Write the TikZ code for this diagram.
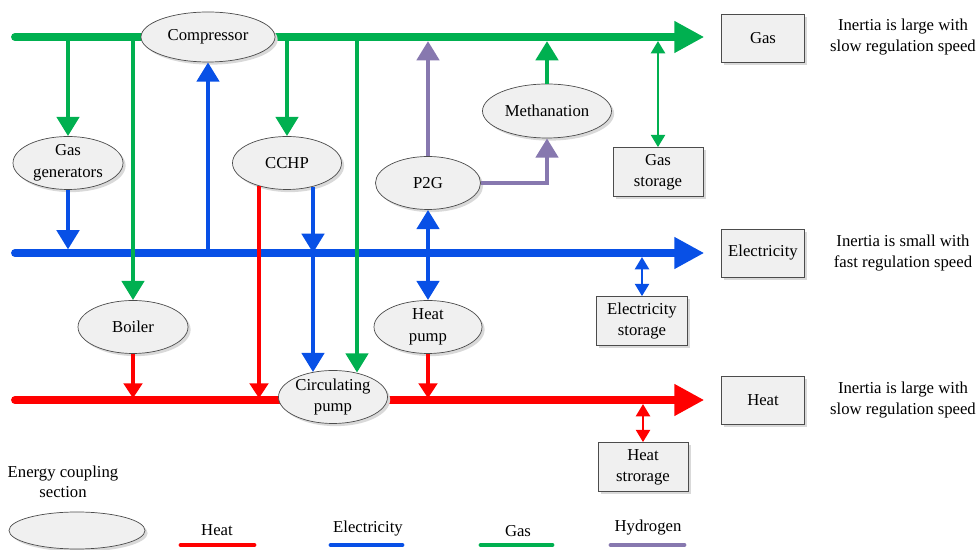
\documentclass[tikz,border=0pt]{standalone}
\usepackage{fontspec}
\setmainfont{Liberation Serif}
\usetikzlibrary{shapes.geometric,arrows.meta,shadows}
\definecolor{gasgreen}{RGB}{0,176,80}
\definecolor{elecblue}{RGB}{8,80,230}
\definecolor{heatred}{RGB}{255,0,0}
\definecolor{hydpurple}{RGB}{135,120,175}
\definecolor{nodegray}{RGB}{240,240,240}

\begin{document}
\begin{tikzpicture}[font=\fontsize{9.5}{11.5}\selectfont,
  coupler/.style={ellipse, draw=black!70, fill=nodegray, inner sep=0pt, align=center,
    font=\fontsize{9.5}{12.5}\selectfont,
    minimum width=2.2cm, minimum height=1.06cm,
    drop shadow={shadow xshift=1.5pt, shadow yshift=-1.5pt, fill=black!15, opacity=1}},
  store/.style={rectangle, draw=black!70, fill=nodegray, inner sep=0pt, align=center,
    font=\fontsize{9.5}{12}\selectfont,
    minimum width=1.8cm, minimum height=0.98cm,
    drop shadow={shadow xshift=1.5pt, shadow yshift=-1.5pt, fill=black!15, opacity=1}},
  carrier/.style={store, minimum width=1.66cm, minimum height=0.96cm},
  note/.style={align=center, inner sep=0pt},
  bus/.style={line width=4.5pt, line cap=round, -{Triangle[length=17pt,width=17pt]}},
  link/.style={line width=2.8pt, -{Triangle[length=11pt,width=12.5pt]}},
  duallink/.style={line width=2.8pt, {Triangle[length=11pt,width=12.5pt]}-{Triangle[length=11pt,width=12.5pt]}},
  thinlink/.style={line width=2.1pt, -{Triangle[length=8.5pt,width=10.5pt]}},
  storelink/.style={line width=1.3pt, {Triangle[length=7pt,width=8pt]}-{Triangle[length=7pt,width=8pt]}},
  legline/.style={line width=2.8pt, line cap=round}]
\useasboundingbox (0,0) rectangle (19.54,11);

\node[carrier] (gasbox) at (15.26,10.24) {Gas};
\node[carrier] (elecbox) at (15.26,5.94) {Electricity};
\node[carrier] (heatbox) at (15.26,3.0) {Heat};

\node[note] (gasnote) at (18.06,10.26) {Inertia is large with\\slow regulation speed};
\node[note] (elecnote) at (18.06,5.94) {Inertia is small with\\fast regulation speed};
\node[note] (heatnote) at (18.06,3.0) {Inertia is large with\\slow regulation speed};

\coordinate (gasL) at (0.3,10.26);
\coordinate (elecL) at (0.3,5.94);
\coordinate (heatL) at (0.3,3.0);

\draw[bus, gasgreen, shorten >=9.6pt] (gasL) -- (gasL -| gasbox.west);
\draw[bus, elecblue, shorten >=9.6pt] (elecL) -- (elecL -| elecbox.west);
\draw[bus, heatred, shorten >=9.6pt] (heatL) -- (heatL -| heatbox.west);

\node[coupler, minimum width=2.68cm, minimum height=1.0cm] (comp) at (4.16,10.26) {Compressor};
\node[coupler] (gg) at (1.36,7.74) {Gas\\generators};
\node[coupler, minimum width=2.18cm] (cchp) at (5.74,7.74) {CCHP};
\node[coupler, minimum width=2.1cm] (p2g) at (8.56,7.34) {P2G};
\node[coupler, minimum width=2.58cm, minimum height=1.08cm] (meth) at (10.94,8.78) {Methanation};
\node[coupler] (boiler) at (2.66,4.46) {Boiler};
\node[coupler, minimum width=2.16cm] (hp) at (8.56,4.46) {Heat\\pump};
\node[coupler, minimum width=2.18cm] (cp) at (6.66,3.06) {Circulating\\pump};

\node[store] (gs) at (13.16,7.56) {Gas\\storage};
\node[store, minimum width=1.82cm] (es) at (12.84,4.58) {Electricity\\storage};
\node[store] (hs) at (12.86,1.66) {Heat\\strorage};

\coordinate (cchpred) at ([xshift=-0.56cm,yshift=0.07cm]cchp.south);
\coordinate (cchpblue) at ([xshift=0.52cm,yshift=0.06cm]cchp.south);
\coordinate (cpblue) at ([xshift=-0.4cm,yshift=-0.04cm]cp.north);
\coordinate (cpgreen) at ([xshift=0.48cm,yshift=-0.05cm]cp.north);

\draw[link, gasgreen] (gg.north |- gasL) -- (gg.north);
\draw[link, gasgreen] (boiler.north |- gasL) -- (boiler.north);
\draw[link, gasgreen] (cchp.north |- gasL) -- (cchp.north);
\draw[link, gasgreen] (cpgreen |- gasL) -- (cpgreen);
\draw[link, gasgreen, shorten >=2.3pt] (meth.north) -- (meth.north |- gasL);
\draw[link, hydpurple, shorten >=2.3pt] (p2g.north) -- (p2g.north |- gasL);
\draw[link, hydpurple] (p2g.east) -| (meth.south);
\draw[storelink, gasgreen, shorten <=2.3pt] (gs.north |- gasL) -- (gs.north);

\draw[link, elecblue] (comp.south |- elecL) -- (comp.south);
\draw[link, elecblue, shorten >=2pt] (gg.south) -- (gg.south |- elecL);
\draw[link, elecblue] (cchpblue) -- (cchpblue |- elecL);
\draw[link, elecblue] (cpblue |- elecL) -- (cpblue);
\draw[duallink, elecblue] (p2g.south) -- (hp.north);
\draw[storelink, elecblue, shorten <=2.3pt] (es.north |- elecL) -- (es.north);

\draw[thinlink, heatred, shorten >=1pt] (cchpred) -- (cchpred |- heatL);
\draw[thinlink, heatred, shorten >=1pt] (boiler.south) -- (boiler.south |- heatL);
\draw[thinlink, heatred, shorten >=1pt] (hp.south) -- (hp.south |- heatL);
\draw[storelink, heatred, shorten <=2.3pt] (hs.north |- heatL) -- (hs.north);

\node[coupler, minimum width=2.72cm, minimum height=0.74cm] (legcoupler) at (1.54,0.39) {};
\node[note] (legcouplertext) at (1.26,1.36) {Energy coupling\\section};
\node (legheat) at (4.34,0.4) {Heat};
\node (legelec) at (7.36,0.42) {Electricity};
\node (leggas) at (10.36,0.38) {Gas};
\node (leghyd) at (12.96,0.44) {Hydrogen};
\draw[legline, heatred] (3.62,0.1) -- (5.08,0.1);
\draw[legline, elecblue] (6.62,0.1) -- (8.04,0.1);
\draw[legline, gasgreen] (9.62,0.1) -- (11.04,0.1);
\draw[legline, hydpurple] (12.22,0.1) -- (13.68,0.1);
\end{tikzpicture}
\end{document}
